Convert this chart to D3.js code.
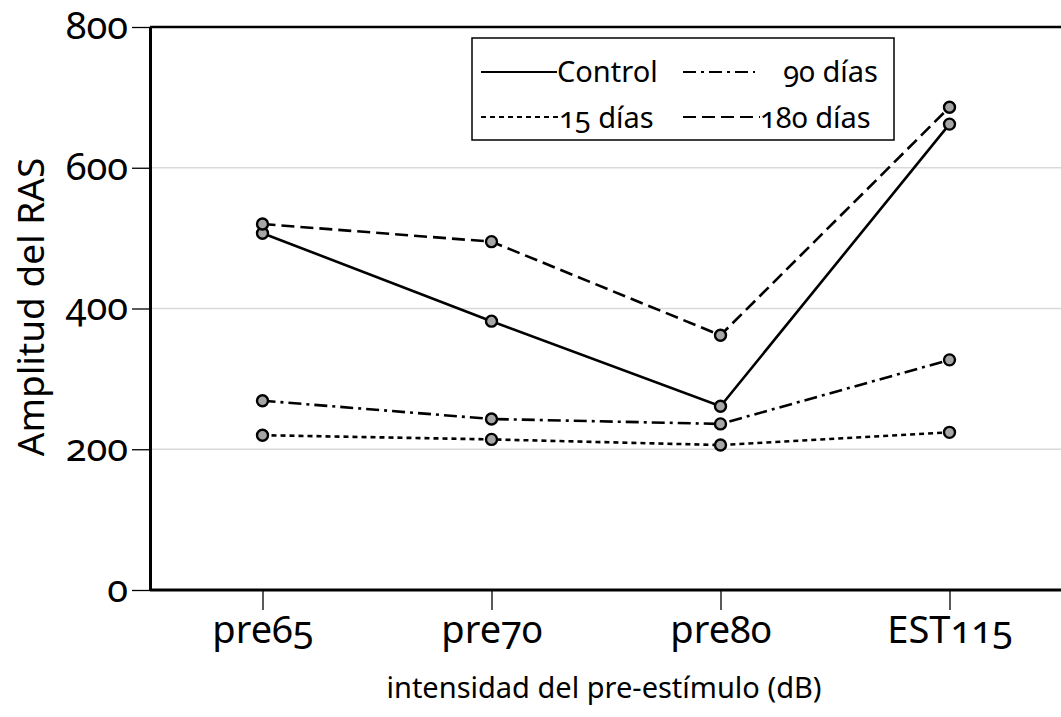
<!DOCTYPE html>
<html>
<head>
<meta charset="utf-8">
<script src="https://cdn.jsdelivr.net/npm/d3@7"></script>
<style>
  body { margin: 0; background: #fff; }
  text { font-family: "Noto Sans", "Open Sans", sans-serif; font-variant-numeric: oldstyle-nums; fill: #000; }
</style>
</head>
<body>
<script>
// categories on the x axis
var categories = ['pre65', 'pre70', 'pre80', 'EST115'];
var yTicks = [0, 200, 400, 600, 800];

// series values
var controlValues = [507, 382, 261, 662];
var dias15Values = [220, 214, 206, 224];
var dias90Values = [269, 243, 236, 327];
var dias180Values = [520, 495, 362, 686];

var series = [
    { name: 'Control', values: controlValues, dash: null },
    { name: '15 días', values: dias15Values, dash: '5,4' },
    { name: '90 días', values: dias90Values, dash: '13,5,3,5' },
    { name: '180 días', values: dias180Values, dash: '13,6' }
];

var svgWidth = 1061, svgHeight = 717;
var svg = d3.select('body').append('svg')
    .attr('width', svgWidth)
    .attr('height', svgHeight);

var plotLeft = 150, plotTop = 27, plotBottom = 590;

var xScale = d3.scalePoint().domain(categories).range([148, 1064]).padding(0.5);
var yScale = d3.scaleLinear().domain([0, 800]).range([plotBottom, plotTop]);

// grid lines
svg.append('g').selectAll('line')
    .data(yTicks.filter(function(d){ return d > 0 && d < 800 }))
    .enter().append('line')
    .attr('x1', plotLeft).attr('x2', svgWidth)
    .attr('y1', function(d){ return yScale(d) }).attr('y2', function(d){ return yScale(d) })
    .attr('stroke', '#d9d9d9').attr('stroke-width', 1.3);

// top frame line
svg.append('line')
    .attr('x1', plotLeft).attr('x2', svgWidth)
    .attr('y1', yScale(800)).attr('y2', yScale(800))
    .attr('stroke', '#000').attr('stroke-width', 2.5);

// y axis
var yAxis = svg.append('g').attr('transform', 'translate(' + plotLeft + ',0)')
    .call(d3.axisLeft(yScale).tickValues(yTicks).tickSize(18).tickPadding(4).tickSizeOuter(0));
yAxis.select('.domain').attr('stroke-width', 3);
yAxis.selectAll('.tick line').attr('stroke-width', 1.3);
yAxis.selectAll('.tick text').attr('font-size', '38px').attr('fill', '#000').attr('dy', '0.3em');

// x axis
var xAxis = svg.append('g').attr('transform', 'translate(0,' + plotBottom + ')')
    .call(d3.axisBottom(xScale).tickSize(20).tickPadding(6).tickSizeOuter(0));
xAxis.select('.domain').attr('d', 'M' + plotLeft + ',0H' + svgWidth).attr('stroke-width', 3);
xAxis.selectAll('.tick line').attr('stroke-width', 1.3);
xAxis.selectAll('.tick text').attr('font-size', '38px').attr('fill', '#000');

// axis titles
svg.append('text')
    .attr('transform', 'translate(44,307) rotate(-90)')
    .attr('text-anchor', 'middle')
    .attr('font-size', '37px')
    .text('Amplitud del RAS');

svg.append('text')
    .attr('x', 604).attr('y', 698)
    .attr('text-anchor', 'middle')
    .attr('font-size', '29px')
    .text('intensidad del pre-estímulo (dB)');

// lines
var line = d3.line()
    .x(function(d, i){ return xScale(categories[i]) })
    .y(function(d){ return yScale(d) });

series.forEach(function(s) {
    svg.append('path')
        .datum(s.values)
        .attr('d', line)
        .attr('fill', 'none')
        .attr('stroke', '#000')
        .attr('stroke-width', 2.6)
        .attr('stroke-dasharray', s.dash);
});

// markers
series.forEach(function(s) {
    svg.append('g').selectAll('circle')
        .data(s.values)
        .enter().append('circle')
        .attr('cx', function(d, i){ return xScale(categories[i]) })
        .attr('cy', function(d){ return yScale(d) })
        .attr('r', 5.5)
        .attr('fill', '#a6a6a6')
        .attr('stroke', '#000')
        .attr('stroke-width', 2.4);
});

// legend
var legend = svg.append('g');
legend.append('rect')
    .attr('x', 472).attr('y', 38).attr('width', 422).attr('height', 102)
    .attr('fill', '#fff').attr('stroke', '#000').attr('stroke-width', 1.5);

var legendItems = [
    { s: series[0], x1: 481, x2: 557, y: 72, tx: 557, anchor: 'start', ty: 82 },
    { s: series[2], x1: 683, x2: 755, y: 72, tx: 878, anchor: 'end', ty: 82 },
    { s: series[1], x1: 481, x2: 559, y: 117, tx: 559, anchor: 'start', ty: 128 },
    { s: series[3], x1: 683, x2: 760, y: 117, tx: 760, anchor: 'start', ty: 128 }
];
legendItems.forEach(function(it) {
    legend.append('line')
        .attr('x1', it.x1).attr('x2', it.x2).attr('y1', it.y).attr('y2', it.y)
        .attr('stroke', '#000').attr('stroke-width', 2.2)
        .attr('stroke-dasharray', it.s.dash);
    legend.append('text')
        .attr('x', it.tx).attr('y', it.ty)
        .attr('text-anchor', it.anchor)
        .attr('font-size', '29px')
        .text(it.s.name);
});
</script>
</body>
</html>
